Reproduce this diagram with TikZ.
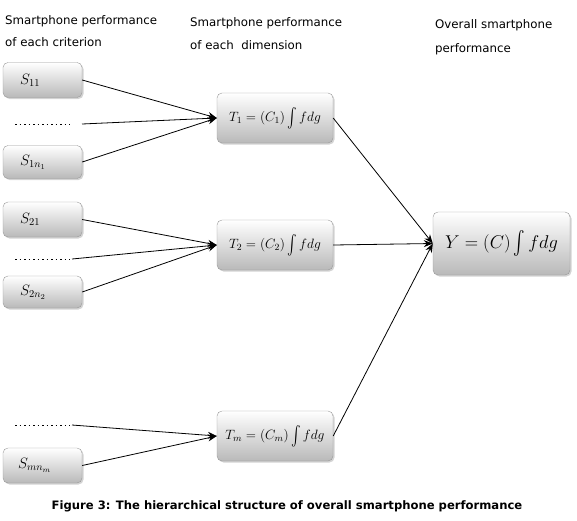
\RequirePackage{fix-cm}
\documentclass[tikz,border=0pt]{standalone}
\usepackage{amsmath}
\usepackage{fontspec}
\newfontfamily\hdr{DejaVu Sans}
\usetikzlibrary{arrows.meta,shadows}
\newcommand{\myint}{\mathop{\vcenter{\hbox{\scalebox{1}[1.35]{$\int$}}}}\nolimits}
\begin{document}
\begin{tikzpicture}[x=1pt,y=-1pt,
  box/.style={draw=gray!80, rounded corners=5pt, top color=white, bottom color=gray!55,
    drop shadow={shadow xshift=1.5pt,shadow yshift=-1.5pt,opacity=0.35}, inner sep=0pt},
  sbox/.style={box, minimum width=79pt, minimum height=35pt},
  tbox/.style={box, minimum width=116pt, minimum height=50pt, font=\fontsize{13.5}{16}\selectfont},
  slab/.style={anchor=west, font=\fontsize{15}{17}\selectfont, inner sep=0pt},
  conn/.style={line width=0.8pt, -{Stealth[length=9pt,width=7pt]}},
  dots/.style={line width=0.8pt, dash pattern=on 1.5pt off 3pt},
  head/.style={anchor=base west, font=\hdr\fontsize{11.8}{13}\selectfont, inner sep=0pt}
]
\useasboundingbox (0,0) rectangle (577,520);
% headers
\node[head] (h1a) at (5,24) {Smartphone performance};
\node[head] (h1b) at (5,46) {of each criterion};
\node[head] (h2a) at (190,26) {Smartphone performance};
\node[head] (h2b) at (190,49) {of each\ \ dimension};
\node[head] (h3a) at (435,28) {Overall smartphone};
\node[head] (h3b) at (435,52) {performance};
% left boxes
\node[sbox] (s11) at (42.5,80) {};
\node[slab] (s11t) at (s11.west) [xshift=17pt] {$S_{11}$};
\node[sbox, minimum height=33pt] (s1n) at (42.5,162) {};
\node[slab] (s1nt) at (s1n.west) [xshift=17pt] {$S_{1n_1}$};
\node[sbox] (s21) at (42.5,219.5) {};
\node[slab] (s21t) at (s21.west) [xshift=17pt] {$S_{21}$};
\node[sbox, minimum height=32pt] (s2n) at (42.5,292) {};
\node[slab] (s2nt) at (s2n.west) [xshift=17pt] {$S_{2n_2}$};
\node[sbox] (smn) at (42.5,465.5) {};
\node[slab] (smnt) at (smn.west) [xshift=15pt] {$S_{mn_m}$};
% dotted lines
\coordinate (d1a) at (15,124); \coordinate (d1b) at (70,124); \coordinate (d1c) at (82,124);
\coordinate (d2a) at (15,259); \coordinate (d2b) at (70,259); \coordinate (d2c) at (72,259);
\coordinate (d3a) at (15,425); \coordinate (d3b) at (70,425); \coordinate (d3c) at (72,425);
\draw[dots] (d1a) -- (d1b);
\draw[dots] (d2a) -- (d2b);
\draw[dots] (d3a) -- (d3b);
% middle boxes
\node[tbox] (t1) at (275,118) {$T_1=(C_1)\myint fdg$};
\node[tbox] (t2) at (275,245) {$T_2=(C_2)\myint fdg$};
\node[tbox] (tm) at (275,436) {$T_m=(C_m)\myint fdg$};
% final box
\node[box, minimum width=137pt, minimum height=63pt, font=\fontsize{18.5}{22}\selectfont] (y) at (501.5,243.5) {$Y=(C)\myint fdg$};
% connectors
\draw[conn] (s11.east) -- (t1.west);
\draw[conn] (d1c) -- (t1.west);
\draw[conn] (s1n.east) -- (t1.west);
\draw[conn] (s21.east) -- (t2.west);
\draw[conn] (d2c) -- (t2.west);
\draw[conn] (s2n.east) -- (t2.west);
\draw[conn] (d3c) -- (tm.west);
\draw[conn] (smn.east) -- (tm.west);
\draw[conn] (t1.east) -- (y.west);
\draw[conn] (t2.east) -- (y.west);
\draw[conn] (tm.east) -- (y.west);
% caption
\node[anchor=base, font=\hdr\bfseries\fontsize{11.6}{13}\selectfont, inner sep=0pt] (cap) at (287,509) {Figure 3: The hierarchical structure of overall smartphone performance};
\end{tikzpicture}
\end{document}
